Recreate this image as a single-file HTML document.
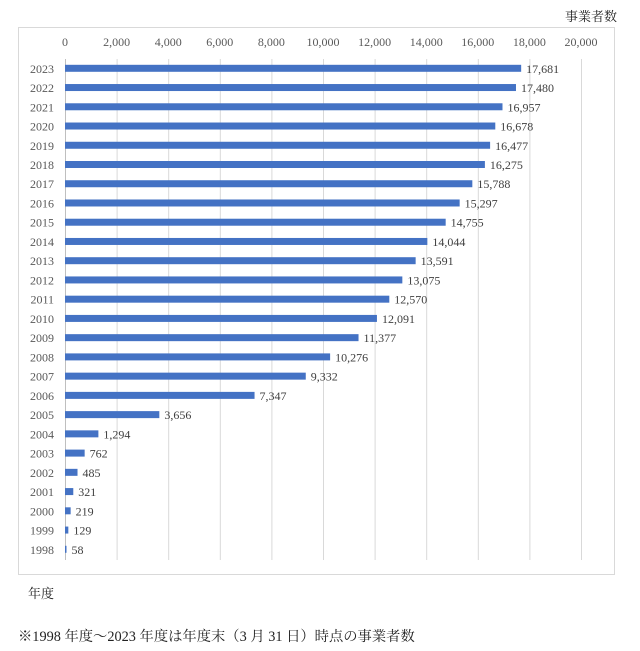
<!DOCTYPE html>
<html><head><meta charset="utf-8"><style>
body{margin:0;background:#fff;}
svg text{font-family:"Liberation Serif","Noto Serif CJK SC",serif;}
</style></head><body>
<svg width="640" height="646" xmlns="http://www.w3.org/2000/svg">
<text x="617" y="21" font-size="13" text-anchor="end" fill="#222">事業者数</text>
<rect x="18.5" y="27.5" width="596" height="547" fill="#fff" stroke="#d9d9d9"/>
<g id="grid" stroke="#d9d9d9" stroke-width="1"></g>
<g id="ticks" font-size="12" fill="#595959" text-anchor="middle"></g>
<g id="bars"></g>
<text x="28" y="598" font-size="13" fill="#222">年度</text>
<text x="18" y="641" font-size="14.3" fill="#222">※1998 年度～2023 年度は年度末（3 月 31 日）時点の事業者数</text>
</svg>
<script>
const ns="http://www.w3.org/2000/svg";
function el(p,t,a,txt){const e=document.createElementNS(ns,t);for(const k in a)e.setAttribute(k,a[k]);if(txt!==undefined)e.textContent=txt;document.getElementById(p).appendChild(e);}
const x0=65,sc=0.0258;
for(let i=0;i<=10;i++){const x=x0+i*2000*sc;
 if(i>0)el("grid","line",{x1:x+0.5,x2:x+0.5,y1:59,y2:560});
 el("ticks","text",{x:x,y:46},i==0?"0":(i*2000).toLocaleString("en-US"));}
el("grid","line",{x1:65.5,x2:65.5,y1:59,y2:560,stroke:"#bfbfbf"});
const v=[17681,17480,16957,16678,16477,16275,15788,15297,14755,14044,13591,13075,12570,12091,11377,10276,9332,7347,3656,1294,762,485,321,219,129,58];
v.forEach((d,i)=>{const y=68.3+i*19.24;const w=Math.max(d*sc,1);
 el("bars","text",{x:54,y:y+4.5,"font-size":"12",fill:"#595959","text-anchor":"end"},String(2023-i));
 el("bars","rect",{x:x0,y:y-3.5,width:w,height:7,fill:"#4472C4"});
 el("bars","text",{x:x0+w+5,y:y+4.5,"font-size":"12",fill:"#404040"},d.toLocaleString("en-US"));
});
</script>
</body></html>
